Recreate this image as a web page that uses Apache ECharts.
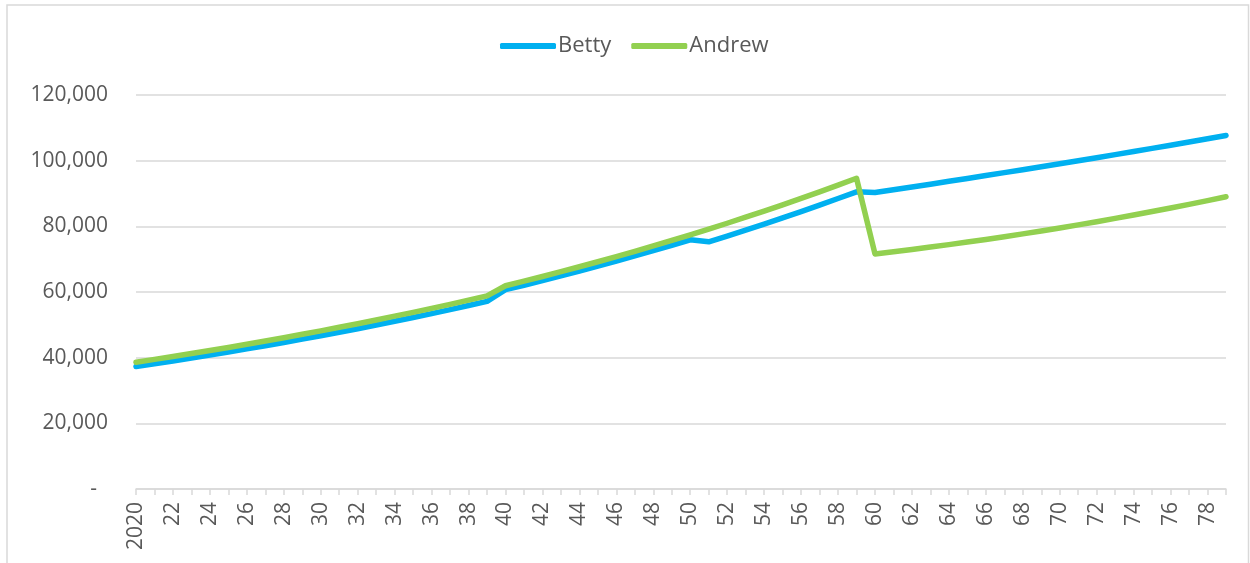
<!DOCTYPE html>
<html>
<head>
<meta charset="utf-8">
<script src="https://cdn.jsdelivr.net/npm/echarts@6/dist/echarts.min.js"></script>
<style>
html,body{margin:0;padding:0;background:#fff;}
#chart{width:1250px;height:563px;}
</style>
</head>
<body>
<div id="chart"></div>
<script>
// Categories: 2020 .. 2079 (labels shown as 2020, 21, 22 ...)
const years = [];
for (let y = 2020; y <= 2079; y++) years.push(y);
const categories = years.map((y, i) => i === 0 ? String(y) : String(y % 100));

const seriesNames = ['Betty', 'Andrew'];

const betty = [
  37300, 38150, 39010, 39900, 40800, 41730, 42680, 43650, 44640, 45650,
  46690, 47750, 48830, 49940, 51070, 52230, 53420, 54630, 55870, 57140,
  60700, 62070, 63480, 64910, 66380, 67880, 69410, 70980, 72580, 74220,
  75900, 75300, 77050, 78850, 80690, 82570, 84490, 86460, 88470, 90500,
  90300, 91140, 91990, 92840, 93710, 94580, 95460, 96350, 97240, 98150,
  99060, 99980, 100910, 101850, 102800, 103750, 104720, 105690, 106670, 107670
];

const andrew = [
  38600, 39470, 40350, 41250, 42180, 43120, 44090, 45080, 46080, 47120,
  48170, 49250, 50350, 51480, 52640, 53810, 55020, 56250, 57510, 58800,
  61900, 63300, 64730, 66190, 67690, 69220, 70780, 72380, 74020, 75690,
  77400, 79150, 80940, 82770, 84640, 86550, 88510, 90510, 92560, 94650,
  71600, 72260, 72960, 73680, 74430, 75200, 76010, 76840, 77700, 78590,
  79500, 80440, 81420, 82420, 83440, 84500, 85580, 86690, 87830, 89000
];

const yMin = 0, yMax = 120000, yStep = 20000;

const colors = ['#00B0F0', '#92D050'];
const textColor = '#595959';
const gridColor = '#D9D9D9';
const font = '"Open Sans", "Noto Sans", sans-serif';

const chart = echarts.init(document.getElementById('chart'), null, {renderer: 'canvas'});

chart.setOption({
  animation: false,
  backgroundColor: '#fff',
  color: colors,
  graphic: [{
    type: 'rect',
    shape: {x: 7, y: 5, width: 1241.5, height: 600},
    style: {fill: 'none', stroke: gridColor, lineWidth: 1.5},
    silent: true,
    z: -1
  }],
  legend: {
    data: seriesNames,
    top: 30,
    left: 495,
    icon: 'roundRect',
    itemWidth: 56,
    itemHeight: 6,
    itemGap: 20,
    textStyle: {color: textColor, fontSize: 22, fontFamily: font, padding: [0, 0, 0, -3]}
  },
  grid: {left: 136, right: 24, top: 95, bottom: 74, containLabel: false},
  xAxis: {
    type: 'category',
    data: categories,
    boundaryGap: false,
    axisLine: {show: true, lineStyle: {color: gridColor, width: 1.5}},
    axisTick: {show: true, interval: 0, length: 6, lineStyle: {color: gridColor, width: 1.5}},
    axisLabel: {
      interval: 1,
      rotate: 90,
      margin: 13,
      color: textColor,
      fontSize: 21,
      fontFamily: font
    },
    splitLine: {show: false}
  },
  yAxis: {
    type: 'value',
    min: yMin,
    max: yMax,
    interval: yStep,
    axisLine: {show: false},
    axisTick: {show: false},
    axisLabel: {
      margin: 28,
      color: textColor,
      fontSize: 21,
      fontFamily: font,
      formatter: v => v === 0 ? '-  ' : v.toLocaleString('en-US')
    },
    splitLine: {show: true, lineStyle: {color: gridColor, width: 1.5}}
  },
  series: [
    {
      name: seriesNames[0], type: 'line', data: betty, symbol: 'none',
      lineStyle: {width: 5.5, color: colors[0], cap: 'round', join: 'round'}
    },
    {
      name: seriesNames[1], type: 'line', data: andrew, symbol: 'none',
      lineStyle: {width: 5.5, color: colors[1], cap: 'round', join: 'round'}
    }
  ]
});
</script>
</body>
</html>
